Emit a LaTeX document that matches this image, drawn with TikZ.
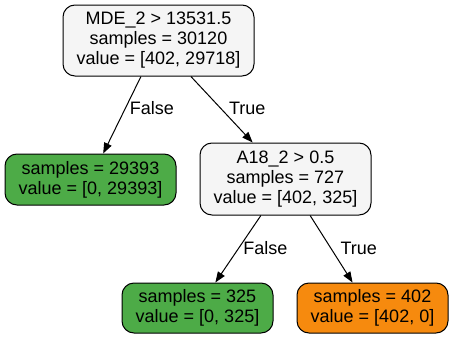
\documentclass[tikz,border=0pt]{standalone}
\usepackage{fontspec}
\setmainfont{Liberation Sans}
\usetikzlibrary{arrows.meta}
\definecolor{nodegray}{HTML}{F5F5F5}
\definecolor{leafgreen}{HTML}{4DAB47}
\definecolor{leaforange}{HTML}{F68A0E}
\begin{document}
\begin{tikzpicture}[x=0.75pt,y=-0.75pt,
  box/.style={draw=black, line width=0.75pt, rounded corners=9pt, align=center,
    inner sep=0pt, font=\fontsize{13.5pt}{15pt}\selectfont},
  inner/.style={box, fill=nodegray, minimum width=143.25pt, minimum height=53.25pt},
  leaf/.style={box, minimum height=38.25pt},
  edge/.style={draw=black, line width=0.75pt, -{Triangle[length=8pt,width=6pt]}},
  elabel/.style={font=\fontsize{13.5pt}{15pt}\selectfont, inner sep=0pt, anchor=west}]
\useasboundingbox (0,0) rectangle (453,339);
\node[inner] (root) at (158.5,40.5) {MDE\_2 > 13531.5\\samples = 30120\\value = [402, 29718]};
\node[leaf, fill=leafgreen, minimum width=128.25pt] (l1) at (90.5,179.5) {samples = 29393\\value = [0, 29393]};
\node[inner, minimum width=128.25pt, minimum height=54pt] (a18) at (285.5,179) {A18\_2 > 0.5\\samples = 727\\value = [402, 325]};
\node[leaf, fill=leafgreen, minimum width=113.25pt, minimum height=37.5pt] (l2) at (197.5,308) {samples = 325\\value = [0, 325]};
\node[leaf, fill=leaforange, minimum width=113.25pt, minimum height=37.5pt] (l3) at (372.5,308) {samples = 402\\value = [402, 0]};
\draw[edge] (root.244) -- node[elabel, pos=0.41, xshift=3pt] (f1) {False} (l1.64);
\draw[edge] (root.312.5) -- node[elabel, pos=0.48, xshift=6pt] (t1) {True} (a18.132);
\draw[edge] (a18.236) -- node[elabel, pos=0.485, xshift=3pt] (f2) {False} (l2.55);
\draw[edge] (a18.304) -- node[elabel, pos=0.485, xshift=7pt] (t2) {True} (l3.128);
\end{tikzpicture}
\end{document}
